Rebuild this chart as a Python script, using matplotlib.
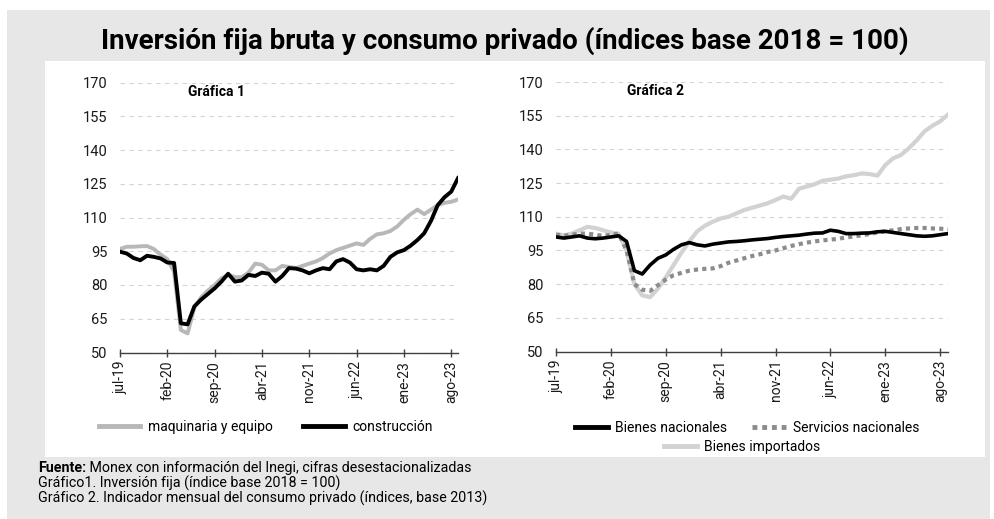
import matplotlib
matplotlib.use("Agg")
import matplotlib.pyplot as plt
from matplotlib.patches import Rectangle
from matplotlib.lines import Line2D
import numpy as np

plt.rcParams['font.family'] = ['Roboto', 'DejaVu Sans']

# ------------------ data (monthly, jul-19 .. sep-23) ------------------
tick_labels = ['jul-19', 'feb-20', 'sep-20', 'abr-21', 'nov-21', 'jun-22', 'ene-23', 'ago-23']
y_ticks = [50, 65, 80, 95, 110, 125, 140, 155, 170]

maquinaria = [96, 97, 97, 97.2, 97.3, 96, 93.5, 91.5, 86, 60,
              58.5, 70, 74.5, 77.5, 80, 83, 84.5, 83.5, 83.5, 85.5,
              89.5, 89, 86.5, 86.5, 88.5, 88, 87.5, 88.5, 89.5, 90.5,
              92, 94, 95.5, 96.5, 97.5, 98.5, 97.8, 100.5, 102.5, 103,
              104, 106, 109, 111.5, 113.5, 111.5, 113.5, 115.5, 116.5, 117, 118]
construccion = [94.8, 94, 92, 91, 93, 92.5, 91.8, 90, 89.8, 63,
                62.5, 70.5, 73.5, 76, 78.5, 81.5, 85, 81.5, 82, 84.5,
                84, 85.5, 85, 81.5, 84, 87.5, 87.3, 86.5, 85.2, 86.5,
                87.5, 87, 90.5, 91.5, 90, 87, 86.5, 87, 86.5, 88.5,
                92.5, 94.5, 95.5, 97.5, 100, 103, 108.5, 115.5, 119, 121.5, 127.5]

bienes_nac = [101, 100.5, 101, 101.5, 100.5, 100.2, 100.5, 101, 101.5, 99,
              86, 84.5, 88.5, 91.5, 93, 95.5, 97.5, 98.5, 97.5, 97,
              97.8, 98.3, 98.8, 99, 99.3, 99.7, 100, 100.3, 100.8, 101.2,
              101.5, 101.8, 102.3, 102.7, 102.8, 104, 103.5, 102.5, 102.5, 102.7,
              102.8, 103.3, 103.5, 103, 102.5, 102, 101.5, 101.3, 101.5, 102, 102.5]
servicios_nac = [102, 101.5, 102, 102.5, 102.5, 102, 101.5, 102, 102.5, 95,
                 80, 77.5, 77, 79.5, 82, 84, 85, 86, 86.5, 86.8,
                 87, 88, 89.5, 90.5, 91.5, 92.5, 93.3, 94.3, 95, 96,
                 97, 97.8, 98.5, 99, 99.5, 99.8, 100.2, 100.8, 101.2, 101.8,
                 102.3, 103, 103.5, 104, 104.5, 104.8, 105, 105, 104.8, 104.7, 104.4]
bienes_imp = [102.5, 101.7, 102.5, 104, 105.5, 105, 104, 103, 102.4, 95,
              80, 75, 74.2, 78, 83, 88.5, 94, 99, 103.5, 106,
              107.8, 109.2, 110, 111.5, 113, 114, 115, 116, 117.5, 119,
              118, 122.5, 123.5, 124.5, 126, 126.5, 127, 128, 128.5, 129.3,
              129, 128.3, 133, 136, 137.5, 140.5, 144, 148, 150.5, 152.5, 155.5]

months = np.arange(len(maquinaria))
tick_pos = np.arange(len(tick_labels)) * 7

# ------------------ figure ------------------
W, H = 995, 519
fig = plt.figure(figsize=(W / 100, H / 100), dpi=100)
fig.patch.set_facecolor('white')


def fx(px):
    return px / W


def fy(py):
    return 1 - py / H


fig.add_artist(Rectangle((fx(7), 0), fx(990 - 7), (H - 10) / H, transform=fig.transFigure,
                         facecolor='#e7e7e7', edgecolor='none', zorder=-10))
fig.add_artist(Rectangle((fx(45), fy(457)), fx(985 - 45), (457 - 61) / H, transform=fig.transFigure,
                         facecolor='white', edgecolor='none', zorder=-9))

fig.text(fx(505), fy(41), 'Inversión fija bruta y consumo privado (índices base 2018 = 100)',
         ha='center', va='center', fontsize=20, fontweight='bold')

ax1 = fig.add_axes([fx(120), fy(352.5), fx(458 - 120), (352.5 - 82.5) / H])
ax2 = fig.add_axes([fx(556), fy(351.5), fx(948 - 556), (351.5 - 82) / H])


def style_axis(ax):
    ax.set_facecolor('none')
    ax.set_xlim(0, len(months) - 1)
    ax.set_ylim(50, 170)
    ax.set_yticks(y_ticks)
    ax.set_xticks(tick_pos)
    ax.set_xticklabels(tick_labels, rotation=90)
    for s in ['left', 'right', 'top']:
        ax.spines[s].set_visible(False)
    ax.spines['bottom'].set_color('#404040')
    ax.spines['bottom'].set_linewidth(1)
    ax.tick_params(axis='y', length=0, pad=9, labelsize=10.5, labelcolor='#1a1a1a')
    ax.tick_params(axis='x', direction='inout', length=6, width=1, color='#404040',
                   labelsize=10, pad=3, labelcolor='#1a1a1a')
    ax.yaxis.grid(True, color='#d4d4d4', linestyle=(0, (4, 4)), linewidth=0.8)
    ax.set_axisbelow(True)


style_axis(ax1)
style_axis(ax2)

# Grafica 1
ax1.plot(months, maquinaria, color='#b8b8b8', lw=2.8, solid_joinstyle='round', zorder=3)
ax1.plot(months, construccion, color='black', lw=2.8, solid_joinstyle='round', zorder=4)
ax1.text(0.2, 0.965, 'Gráfica 1', transform=ax1.transAxes, fontsize=10, fontweight='bold',
         va='center', ha='left')

# Grafica 2
ax2.plot(months, bienes_imp, color='#d2d2d2', lw=3, solid_joinstyle='round', zorder=3)
ax2.plot(months, servicios_nac, color='#8c8c8c', lw=3, linestyle=(0, (1, 1)), zorder=4)
ax2.plot(months, bienes_nac, color='black', lw=2.6, solid_joinstyle='round', zorder=5)
ax2.text(0.18, 0.965, 'Gráfica 2', transform=ax2.transAxes, fontsize=10, fontweight='bold',
         va='center', ha='left')

# legends
h_maq = Line2D([], [], color='#b8b8b8', lw=3.5)
h_con = Line2D([], [], color='black', lw=3.5)
fig.legend([h_maq, h_con], ['maquinaria y equipo', 'construcción'], loc='center',
           bbox_to_anchor=(fx(266), fy(427)), ncol=2, frameon=False, fontsize=10,
           handlelength=3.0, handletextpad=0.55, columnspacing=2.2, borderaxespad=0)

h_bn = Line2D([], [], color='black', lw=3.5)
h_sn = Line2D([], [], color='#8c8c8c', lw=3.5, linestyle=(0, (1, 1)))
h_bi = Line2D([], [], color='#d2d2d2', lw=3.5)
fig.legend([h_bn, h_sn], ['Bienes nacionales', 'Servicios nacionales'], loc='center',
           bbox_to_anchor=(fx(747), fy(428)), ncol=2, frameon=False, fontsize=10,
           handlelength=2.4, handletextpad=0.5, columnspacing=1.8, borderaxespad=0)
fig.legend([h_bi], ['Bienes importados'], loc='center',
           bbox_to_anchor=(fx(742), fy(447)), ncol=1, frameon=False, fontsize=10,
           handlelength=2.4, handletextpad=0.5, borderaxespad=0)

# footer
foot_size = 10.3
t = fig.text(fx(38), fy(468), 'Fuente:', fontsize=foot_size, fontweight='bold', va='center', ha='left')
plt.annotate(' Monex con información del Inegi, cifras desestacionalizadas', xy=(1, 0.5),
             xycoords=t, va='center', ha='left', fontsize=foot_size, annotation_clip=False)
fig.text(fx(38), fy(483), 'Gráfico1. Inversión fija (índice base 2018 = 100)', fontsize=foot_size,
         va='center', ha='left')
fig.text(fx(38), fy(498), 'Gráfico 2. Indicador mensual del consumo privado (índices, base 2013)',
         fontsize=foot_size, va='center', ha='left')

fig.savefig('out.png', dpi=100)
